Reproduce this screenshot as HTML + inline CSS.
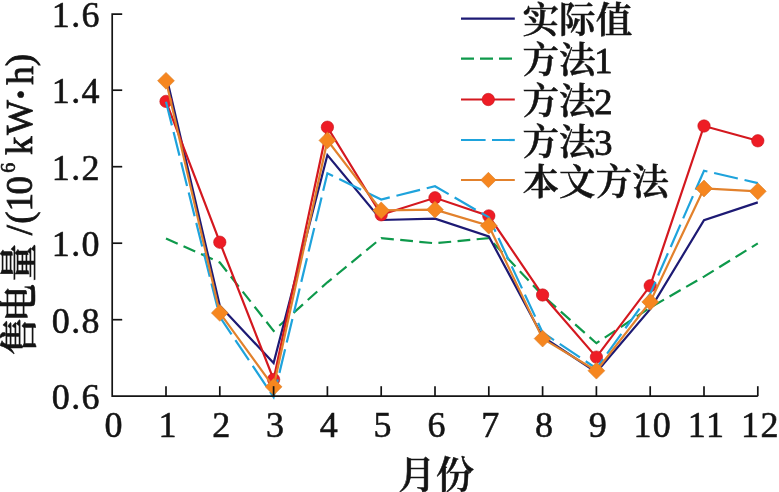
<!DOCTYPE html>
<html lang="zh"><head><meta charset="utf-8"><title>chart</title>
<style>
html,body{margin:0;padding:0;background:#fff;}
body{width:779px;height:492px;overflow:hidden;}
svg{display:block;}
text{font-family:"Liberation Serif","Noto Serif CJK SC",serif;fill:#141414;}
.t{font-size:36px;stroke:#141414;stroke-width:.55px;letter-spacing:1.4px;}
.c{font-size:36.6px;font-weight:600;stroke:#141414;stroke-width:.5px;}
.n{font-weight:400;stroke:#141414;stroke-width:.8px;}
.l{font-size:37px;stroke:#141414;stroke-width:.8px;}
</style></head><body>
<svg width="779" height="492" viewBox="0 0 779 492">
<rect width="779" height="492" fill="#fff"/>
<polyline points="166.0,238.4 219.8,262.5 273.6,330.9 327.4,282.3 381.2,238.1 435.0,243.3 488.8,238.1 542.6,295.4 596.4,343.2 650.2,307.6 704.0,276.6 757.8,243.4" fill="none" stroke="#0e994b" stroke-width="2.2" stroke-dasharray="12.8 6.4"/>
<polyline points="166.0,74.7 219.8,305.7 273.6,363.1 327.4,155.0 381.2,220.0 435.0,218.6 488.8,236.4 542.6,336.7 596.4,372.2 650.2,309.1 704.0,220.2 757.8,202.4" fill="none" stroke="#1d1a74" stroke-width="2.2"/>
<polyline points="166.0,101.4 219.8,242.2 273.6,379.5 327.4,127.2 381.2,214.8 435.0,197.8 488.8,215.9 542.6,295.0 596.4,357.1 650.2,285.8 704.0,126.0 757.8,140.8" fill="none" stroke="#d4181f" stroke-width="2.2"/>
<circle cx="166.0" cy="101.4" r="6.2" fill="#ee1c25" stroke="#c4161c" stroke-width="0.6"/>
<circle cx="219.8" cy="242.2" r="6.2" fill="#ee1c25" stroke="#c4161c" stroke-width="0.6"/>
<circle cx="273.6" cy="379.5" r="6.2" fill="#ee1c25" stroke="#c4161c" stroke-width="0.6"/>
<circle cx="327.4" cy="127.2" r="6.2" fill="#ee1c25" stroke="#c4161c" stroke-width="0.6"/>
<circle cx="381.2" cy="214.8" r="6.2" fill="#ee1c25" stroke="#c4161c" stroke-width="0.6"/>
<circle cx="435.0" cy="197.8" r="6.2" fill="#ee1c25" stroke="#c4161c" stroke-width="0.6"/>
<circle cx="488.8" cy="215.9" r="6.2" fill="#ee1c25" stroke="#c4161c" stroke-width="0.6"/>
<circle cx="542.6" cy="295.0" r="6.2" fill="#ee1c25" stroke="#c4161c" stroke-width="0.6"/>
<circle cx="596.4" cy="357.1" r="6.2" fill="#ee1c25" stroke="#c4161c" stroke-width="0.6"/>
<circle cx="650.2" cy="285.8" r="6.2" fill="#ee1c25" stroke="#c4161c" stroke-width="0.6"/>
<circle cx="704.0" cy="126.0" r="6.2" fill="#ee1c25" stroke="#c4161c" stroke-width="0.6"/>
<circle cx="757.8" cy="140.8" r="6.2" fill="#ee1c25" stroke="#c4161c" stroke-width="0.6"/>
<polyline points="166.0,101.8 219.8,316.8 273.6,397.1 327.4,173.3 381.2,199.5 435.0,186.2 488.8,217.3 542.6,332.5 596.4,368.4 650.2,293.8 704.0,170.7 757.8,183.1" fill="none" stroke="#1ea3dc" stroke-width="2.2" stroke-dasharray="24.3 6.9"/>
<polyline points="166.0,80.8 219.8,312.9 273.6,386.8 327.4,140.4 381.2,210.4 435.0,209.7 488.8,225.7 542.6,338.6 596.4,370.7 650.2,301.9 704.0,188.5 757.8,191.3" fill="none" stroke="#e2812c" stroke-width="2.2"/>
<path d="M166.0 72.4L174.4 80.8L166.0 89.2L157.6 80.8Z" fill="#f6861f" stroke="#d67c26" stroke-width="0.6"/>
<path d="M219.8 304.6L228.2 312.9L219.8 321.3L211.4 312.9Z" fill="#f6861f" stroke="#d67c26" stroke-width="0.6"/>
<path d="M273.6 378.4L282.0 386.8L273.6 395.2L265.2 386.8Z" fill="#f6861f" stroke="#d67c26" stroke-width="0.6"/>
<path d="M327.4 132.0L335.8 140.4L327.4 148.8L319.0 140.4Z" fill="#f6861f" stroke="#d67c26" stroke-width="0.6"/>
<path d="M381.2 202.0L389.6 210.4L381.2 218.8L372.8 210.4Z" fill="#f6861f" stroke="#d67c26" stroke-width="0.6"/>
<path d="M435.0 201.3L443.4 209.7L435.0 218.1L426.6 209.7Z" fill="#f6861f" stroke="#d67c26" stroke-width="0.6"/>
<path d="M488.8 217.3L497.2 225.7L488.8 234.1L480.4 225.7Z" fill="#f6861f" stroke="#d67c26" stroke-width="0.6"/>
<path d="M542.6 330.2L551.0 338.6L542.6 347.0L534.2 338.6Z" fill="#f6861f" stroke="#d67c26" stroke-width="0.6"/>
<path d="M596.4 362.3L604.8 370.7L596.4 379.1L588.0 370.7Z" fill="#f6861f" stroke="#d67c26" stroke-width="0.6"/>
<path d="M650.2 293.5L658.6 301.9L650.2 310.3L641.8 301.9Z" fill="#f6861f" stroke="#d67c26" stroke-width="0.6"/>
<path d="M704.0 180.1L712.4 188.5L704.0 196.9L695.6 188.5Z" fill="#f6861f" stroke="#d67c26" stroke-width="0.6"/>
<path d="M757.8 182.9L766.2 191.3L757.8 199.7L749.4 191.3Z" fill="#f6861f" stroke="#d67c26" stroke-width="0.6"/>
<path d="M122.2 14.2H112.2V396.2H757.8" fill="none" stroke="#141414" stroke-width="1.7"/>
<path d="M112.2 319.7h10" stroke="#141414" stroke-width="1.7"/>
<path d="M112.2 243.2h10" stroke="#141414" stroke-width="1.7"/>
<path d="M112.2 166.7h10" stroke="#141414" stroke-width="1.7"/>
<path d="M112.2 90.2h10" stroke="#141414" stroke-width="1.7"/>
<path d="M166.0 396.2v-10" stroke="#141414" stroke-width="1.7"/>
<path d="M219.8 396.2v-10" stroke="#141414" stroke-width="1.7"/>
<path d="M273.6 396.2v-10" stroke="#141414" stroke-width="1.7"/>
<path d="M327.4 396.2v-10" stroke="#141414" stroke-width="1.7"/>
<path d="M381.2 396.2v-10" stroke="#141414" stroke-width="1.7"/>
<path d="M435.0 396.2v-10" stroke="#141414" stroke-width="1.7"/>
<path d="M488.8 396.2v-10" stroke="#141414" stroke-width="1.7"/>
<path d="M542.6 396.2v-10" stroke="#141414" stroke-width="1.7"/>
<path d="M596.4 396.2v-10" stroke="#141414" stroke-width="1.7"/>
<path d="M650.2 396.2v-10" stroke="#141414" stroke-width="1.7"/>
<path d="M704.0 396.2v-10" stroke="#141414" stroke-width="1.7"/>
<path d="M757.8 396.2v-10" stroke="#141414" stroke-width="1.7"/>
<text class="t" x="101" y="409.2" text-anchor="end">0.6</text>
<text class="t" x="101" y="332.7" text-anchor="end">0.8</text>
<text class="t" x="101" y="256.2" text-anchor="end">1.0</text>
<text class="t" x="101" y="179.7" text-anchor="end">1.2</text>
<text class="t" x="101" y="103.2" text-anchor="end">1.4</text>
<text class="t" x="101" y="26.7" text-anchor="end">1.6</text>
<text class="t" x="114.3" y="437.4" text-anchor="middle">0</text>
<text class="t" x="168.1" y="437.4" text-anchor="middle">1</text>
<text class="t" x="221.9" y="437.4" text-anchor="middle">2</text>
<text class="t" x="275.7" y="437.4" text-anchor="middle">3</text>
<text class="t" x="329.5" y="437.4" text-anchor="middle">4</text>
<text class="t" x="383.3" y="437.4" text-anchor="middle">5</text>
<text class="t" x="437.1" y="437.4" text-anchor="middle">6</text>
<text class="t" x="490.9" y="437.4" text-anchor="middle">7</text>
<text class="t" x="544.7" y="437.4" text-anchor="middle">8</text>
<text class="t" x="598.5" y="437.4" text-anchor="middle">9</text>
<text class="t" x="652.8" y="437.4" text-anchor="middle">10</text>
<text class="t" x="706.6" y="437.4" text-anchor="middle">11</text>
<text class="t" x="760.4" y="437.4" text-anchor="middle">12</text>
<text class="c" x="436" y="488" text-anchor="middle" style="font-size:38px">月份</text>
<g transform="rotate(-90)">
<text class="c" x="-355.3 -322 -281.4" y="32" style="font-size:38px">售电量</text>
<text class="l" x="-235.2 -223.8 -211.5 -194.6" y="32.2">/(10</text>
<text class="l" x="-172.8" y="15" style="font-size:20px;stroke-width:.6px">6</text>
<text class="l" x="-155" y="32.2" style="letter-spacing:1.5px">kW</text>
<text class="l" x="-101.3" y="34" style="font-weight:700;font-size:40px;stroke-width:.3px">·</text>
<text class="l" x="-84.8" y="32.6">h</text>
<text class="l" x="-66.2" y="32">)</text>
</g>
<path d="M461 18.6H514.8" stroke="#1d1a74" stroke-width="2.2"/>
<path d="M461 58.6H514.8" stroke="#0e994b" stroke-width="2.2" stroke-dasharray="13 6"/>
<path d="M461 99.5H514.8" stroke="#d4181f" stroke-width="2.2"/>
<circle cx="488.3" cy="99.5" r="6.2" fill="#ee1c25" stroke="#c4161c" stroke-width="0.6"/>
<path d="M461 140H514.8" stroke="#1ea3dc" stroke-width="2.2" stroke-dasharray="24.6 6.4"/>
<path d="M461 180H514.8" stroke="#e2812c" stroke-width="2.2"/>
<path d="M488.4 172.3L496.1 180.0L488.4 187.7L480.7 180.0Z" fill="#f6861f" stroke="#d67c26" stroke-width="0.6"/>
<text class="c" x="522.5" y="33.4">实际值</text>
<text class="c" x="522.5" y="73.4">方法<tspan class="n" dx="-1.5">1</tspan></text>
<text class="c" x="522.5" y="114.3">方法<tspan class="n" dx="-1.5">2</tspan></text>
<text class="c" x="522.5" y="154.8">方法<tspan class="n" dx="-1.5">3</tspan></text>
<text class="c" x="522.5" y="194.8">本文方法</text>
</svg></body></html>
